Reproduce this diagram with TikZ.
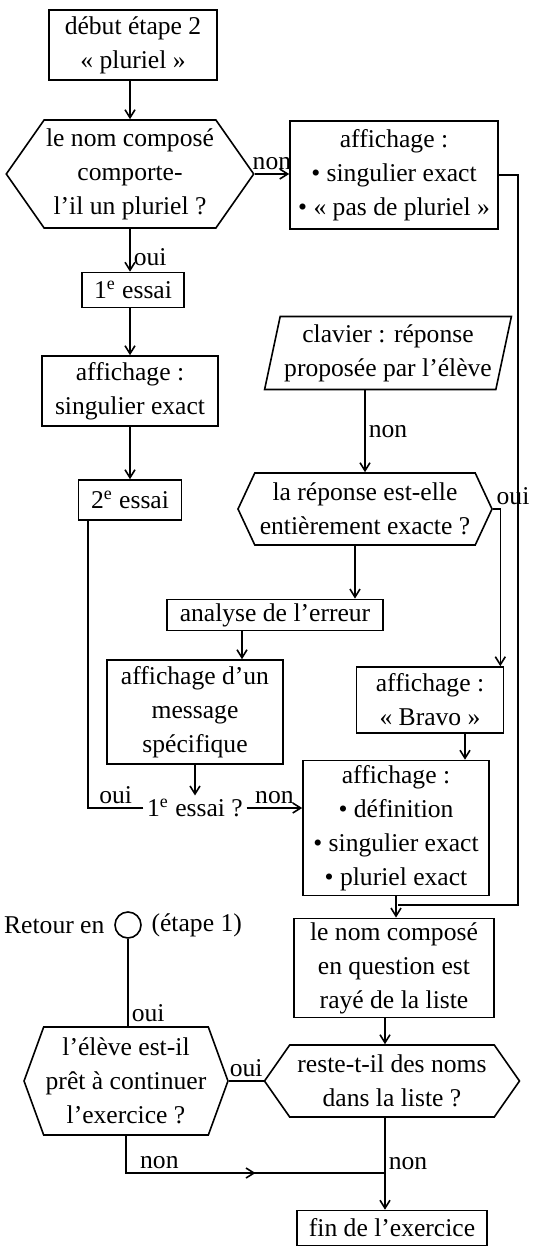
\documentclass[tikz,border=0pt]{standalone}
\usepackage{fontspec}
\setmainfont{Liberation Serif}
\usetikzlibrary{arrows.meta,positioning,calc,shapes.symbols,shapes.geometric}

\begin{document}
\begin{tikzpicture}[x=0.5pt,y=-0.5pt,node distance=3pt,>={Straight Barb[length=4pt,width=5pt]},
line width=0.8pt,font=\fontsize{12.8}{17}\selectfont,
box/.style={draw,align=center,inner sep=2pt},
hexa/.style={draw,signal,signal to=west and east,align=center,inner sep=1pt},
para/.style={draw,trapezium,trapezium left angle=76,trapezium right angle=104,
  trapezium stretches=true,align=center,inner sep=1pt},
lab/.style={inner sep=1.5pt}]
\useasboundingbox (0,0) rectangle (537,1246);
\node[box,minimum width=84pt,minimum height=35pt] (start) at (133,45) {début étape 2\\« pluriel »};
\node[hexa,signal pointer angle=110,minimum width=118pt,minimum height=54pt] (q1) at (130,174)
  {le nom composé\\comporte-\\l'il un pluriel ?};
\node[box,minimum width=104pt,minimum height=54pt] (aff1) at (394,175)
  {affichage :\\• singulier exact\\• « pas de pluriel »};
\node[box,minimum width=51pt,minimum height=17.5pt] (try1) at (133,290) {1\textsuperscript{e} essai};
\node[box,minimum width=88pt,minimum height=35pt] (aff2) at (130,391) {affichage :\\singulier exact};
\node[box,minimum width=51.5pt,minimum height=20pt] (try2) at (130,500) {2\textsuperscript{e} essai};
\node[para,minimum width=123.5pt,minimum height=36.5pt] (kbd) at (388,353)
  {clavier : réponse\\proposée par l'élève};
\node[hexa,signal pointer angle=130,minimum width=127pt,minimum height=36pt] (q2) at (365,509)
  {la réponse est-elle\\entièrement exacte ?};
\node[box,minimum width=108pt,minimum height=15.5pt] (err) at (275,615) {analyse de l'erreur};
\node[box,minimum width=88pt,minimum height=52pt] (msg) at (195,712)
  {affichage d'un\\message\\spécifique};
\node[lab] (first) at (195,808) {1\textsuperscript{e} essai ?};
\node[box,minimum width=73.5pt,minimum height=33pt] (bravo) at (430,700) {affichage :\\« Bravo »};
\node[box,minimum width=93pt,minimum height=67.5pt] (final) at (396,828)
  {affichage :\\• définition\\• singulier exact\\• pluriel exact};
\node[box,minimum width=100pt,minimum height=47.5pt] (struck) at (394,968)
  {le nom composé\\en question est\\rayé de la liste};
\node[hexa,signal pointer angle=110,minimum width=127.5pt,minimum height=36pt] (q3) at (392,1081)
  {reste-t-il des noms\\dans la liste ?};
\node[hexa,signal pointer angle=140,minimum width=98.5pt,minimum height=54pt] (q4) at (126,1081)
  {l'élève est-il\\prêt à continuer\\l'exercice ?};
\node[box,minimum width=95pt,minimum height=17.5pt] (fin) at (392,1228) {fin de l'exercice};
\node[draw,circle,minimum size=13pt,inner sep=0pt] (ring) at (128,925) {};
\node[lab,left=of ring] (ret) {Retour en};
\node[lab,right=of ring] (stage) {(étape 1)};
\coordinate (j1) at (398,905);
\coordinate (rt) at (518,905);
\coordinate (j2) at (385,1173);
\coordinate (lp) at (88,808);
% arrows
\draw[->] (start.south -| q1.north)--(q1.north);
\draw[->] (q1.east)--node[lab,above]{non}(q1.east -| aff1.west);
\draw (aff1.east)-|(rt)--(j1);
\draw[->] (q1.south)--node[lab,right,pos=.65]{oui}(q1.south |- try1.north);
\draw[->] (try1.south -| aff2.north)--(aff2.north);
\draw[->] (aff2)--(try2);
\draw[->] (kbd.south -| q2.north)--node[lab,right]{non}(q2.north);
\draw[->] (q2.east) node[lab,above right]{oui} -| ([xshift=-2pt]bravo.north east);
\draw[->] ([xshift=-5pt]q2.south)--([xshift=-5pt]q2.south |- err.north);
\draw[->] ([xshift=-16.5pt]err.south)--([xshift=-16.5pt]err.south |- msg.north);
\draw[->] (msg.south)--(first.north);
\draw[->] (first.east)--node[lab,above]{non}(first.east -| final.west);
\draw (first.west)--node[lab,above]{oui}(lp)--(lp |- try2.south);
\draw[->] ([xshift=17.5pt]bravo.south)--([xshift=17.5pt]bravo.south |- final.north);
\draw[->] (final.south)--(final.south |- struck.north);
\draw[->] (struck.south -| j2)--(q3.north -| j2);
\draw (q3.west)--node[lab,above]{oui}(q3.west -| q4.east);
\draw (q4.north -| ring)--node[lab,right,pos=.15]{oui}(ring.south);
\draw (q4.south)|-node[lab,above right,pos=.52]{non}(j2);
\draw[->] (q4.south |- j2)--($(q4.south |- j2)!.5!(j2)$);
\draw[->] (q3.south -| j2)--node[lab,right,pos=.5]{non}(fin.north -| j2);
\end{tikzpicture}
\end{document}
